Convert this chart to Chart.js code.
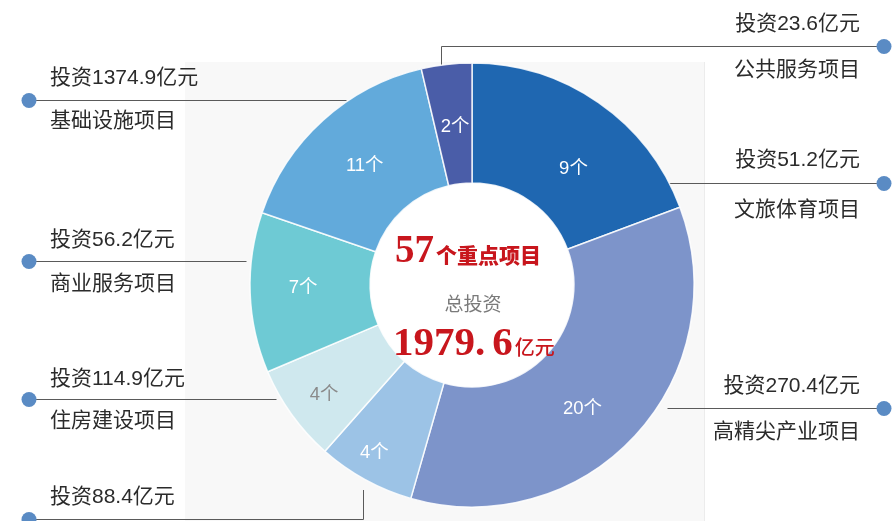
<!DOCTYPE html>
<html>
<head>
<meta charset="utf-8">
<script src="https://cdn.jsdelivr.net/npm/chart.js@4"></script>
<style>
html,body{margin:0;padding:0;background:#ffffff;}
#wrap{position:relative;width:894px;height:521px;}
</style>
</head>
<body>
<div id="wrap"><canvas id="c" width="894" height="521"></canvas></div>
<script>
// ---- data ----
const categories = ['文旅体育项目','高精尖产业项目','住房建设项目(4)','住房建设项目','商业服务项目','基础设施项目','公共服务项目'];
const projectCounts = [9, 20, 4, 4, 7, 11, 2];
// arc sweep (degrees) as drawn in the reference (not strictly proportional to counts)
const arcSpans = [69.5, 126.5, 25.5, 25.5, 42, 57.8, 13.2];
const segmentColors = ['#1f67b1','#7d94ca','#9cc3e6','#cfe8ee','#6ecad4','#62aadb','#4a5da8'];
const labelColors = ['#ffffff','#ffffff','#ffffff','#8a8a8a','#ffffff','#ffffff','#ffffff'];
const calloutAmounts = ['投资23.6亿元','投资51.2亿元','投资270.4亿元','投资88.4亿元','投资114.9亿元','投资56.2亿元','投资1374.9亿元'];
const calloutNames = ['公共服务项目','文旅体育项目','高精尖产业项目','','住房建设项目','商业服务项目','基础设施项目'];
const totalProjects = '57';
const totalInvest = '1979.6';

// ---- annotation layout ----
const callouts = [
  {side:'R', y:46,  x0:441, vTo:68,  amtY:24,  nameY:70},
  {side:'R', y:183, x0:667, amtY:160, nameY:210},
  {side:'R', y:408, x0:667, amtY:386, nameY:432},
  {side:'L', y:519, x0:363, vTo:490, amtY:497, nameY:null},
  {side:'L', y:399, x0:276, amtY:379, nameY:421},
  {side:'L', y:261, x0:246, amtY:240, nameY:284},
  {side:'L', y:100, x0:346, amtY:78,  nameY:121}
];
// label nudges: angle offset (deg) and radius offset (px) relative to arc centre point
const labelNudge = [{a:6.5,r:-8},{a:5.5,r:4},{a:1.5,r:32},{a:-0.75,r:22},{a:1,r:7},{a:0,r:-2},{a:0.5,r:-3}];
const SANS = '"Liberation Sans","Noto Sans CJK SC",sans-serif';
const CJK = '"Noto Sans CJK SC","Liberation Sans",sans-serif';

const decor = {
  id:'decor',
  beforeDraw(chart){
    const ctx = chart.ctx;
    ctx.save();
    ctx.fillStyle = '#f8f8f8';
    ctx.fillRect(185, 62, 519, 459);
    ctx.strokeStyle = '#ececec';
    ctx.lineWidth = 1;
    ctx.beginPath(); ctx.moveTo(704.5, 62); ctx.lineTo(704.5, 521); ctx.stroke();
    const meta = chart.getDatasetMeta(0);
    const a = meta.data[0];
    ctx.fillStyle = '#ffffff';
    ctx.beginPath(); ctx.arc(a.x, a.y, a.innerRadius, 0, Math.PI*2); ctx.fill();
    ctx.strokeStyle = '#5a5a5a';
    ctx.lineWidth = 1;
    callouts.forEach(c => {
      const dotX = c.side === 'R' ? 884 : 29;
      ctx.beginPath();
      ctx.moveTo(c.x0 + 0.5, c.y + 0.5);
      ctx.lineTo(dotX, c.y + 0.5);
      ctx.stroke();
      if (c.vTo !== undefined) {
        ctx.beginPath();
        ctx.moveTo(c.x0 + 0.5, c.y + 0.5);
        ctx.lineTo(c.x0 + 0.5, c.vTo);
        ctx.stroke();
      }
    });
    ctx.restore();
  },
  afterDatasetsDraw(chart){
    const ctx = chart.ctx;
    const meta = chart.getDatasetMeta(0);
    ctx.save();
    ctx.textAlign = 'center';
    ctx.textBaseline = 'middle';
    ctx.font = '18.5px ' + SANS;
    meta.data.forEach((arc, i) => {
      const mid = (arc.startAngle + arc.endAngle) / 2 + labelNudge[i].a * Math.PI / 180;
      const r = (arc.innerRadius + arc.outerRadius) / 2 + labelNudge[i].r;
      ctx.fillStyle = labelColors[i];
      ctx.fillText(projectCounts[i] + '个', arc.x + r * Math.cos(mid), arc.y + r * Math.sin(mid));
    });
    ctx.fillStyle = '#5a8bc4';
    callouts.forEach(c => {
      const dotX = c.side === 'R' ? 884 : 29;
      ctx.beginPath(); ctx.arc(dotX, c.y + 0.5, 7.5, 0, Math.PI*2); ctx.fill();
    });
    ctx.fillStyle = '#2b2b2b';
    ctx.font = '21px ' + SANS;
    callouts.forEach((c, i) => {
      ctx.textAlign = c.side === 'R' ? 'right' : 'left';
      const tx = c.side === 'R' ? 860 : 50;
      ctx.fillText(calloutAmounts[i], tx, c.amtY);
      if (c.nameY !== null && calloutNames[i]) ctx.fillText(calloutNames[i], tx, c.nameY);
    });
    const a = meta.data[0];
    const cx = a.x, cy = a.y;
    ctx.textAlign = 'left';
    ctx.textBaseline = 'alphabetic';
    ctx.fillStyle = '#c8161d';
    ctx.font = 'bold 39px "Liberation Serif",serif';
    const x57 = cx - 77;
    ctx.fillText(totalProjects, x57, cy - 23);
    const w57 = ctx.measureText(totalProjects).width;
    ctx.font = '900 21px ' + CJK;
    ctx.fillText('个重点项目', x57 + w57 + 2, cy - 22);
    ctx.fillStyle = '#7a7a7a';
    ctx.font = '19px ' + CJK;
    ctx.textAlign = 'center';
    ctx.fillText('总投资', cx + 1, cy + 26);
    ctx.textAlign = 'left';
    ctx.fillStyle = '#c8161d';
    ctx.font = 'bold 41px "Liberation Serif",serif';
    const parts = totalInvest.split('.');
    let x = cx - 79;
    const p1 = parts[0] + '.';
    ctx.fillText(p1, x, cy + 70);
    x += ctx.measureText(p1).width + 7;
    ctx.fillText(parts[1], x, cy + 70);
    x += ctx.measureText(parts[1]).width + 2;
    ctx.font = '500 20px ' + CJK;
    ctx.fillText('亿元', x, cy + 70);
    ctx.restore();
  }
};

new Chart(document.getElementById('c'), {
  type: 'doughnut',
  data: {
    labels: categories,
    datasets: [{
      data: arcSpans,
      backgroundColor: segmentColors,
      borderColor: 'rgba(255,255,255,0.85)',
      borderWidth: 1.5
    }]
  },
  options: {
    responsive: false,
    animation: false,
    radius: 222,
    cutout: 108,
    layout: { padding: { left: 50, right: 0, top: 49, bottom: 0 } },
    plugins: { legend: { display: false }, tooltip: { enabled: false } }
  },
  plugins: [decor]
});
</script>
</body>
</html>
